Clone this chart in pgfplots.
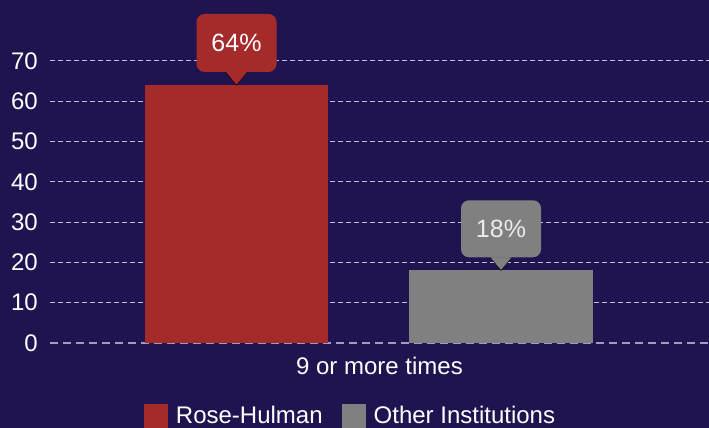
\documentclass[border=0pt]{standalone}
\usepackage{pgfplots}
\pgfplotsset{compat=1.18}
\usepackage{fontspec}
\setmainfont{Liberation Sans}
\definecolor{bg}{HTML}{1F1450}
\definecolor{rh}{HTML}{A52A2A}
\definecolor{oi}{HTML}{808080}
\definecolor{gridc}{HTML}{C4BCDC}
\begin{document}
\begin{tikzpicture}[x=1pt,y=1pt]
\fill[bg] (0,0) rectangle (709,428);
\useasboundingbox (0,0) rectangle (709,428);
\begin{axis}[
  at={(50pt,85pt)}, anchor=south west,
  scale only axis, width=659pt, height=322.3pt,
  xmin=50, xmax=709, ymin=0, ymax=80,
  clip=false,
  axis line style={draw=none},
  major tick length=0pt,
  xtick={379.5}, xticklabels={9 or more times},
  ytick={10,20,...,70},
  extra y ticks={0},
  extra y tick style={grid style={color=gridc!80!bg, dash pattern=on 8pt off 5pt, line width=1.6pt}},
  ymajorgrids,
  grid style={color=gridc, dash pattern=on 5pt off 3pt, line width=1pt},
  tick label style={text=white, font=\fontsize{24}{28}\selectfont},
  /pgf/number format/assume math mode=true,
  yticklabel style={anchor=east, inner sep=0pt, xshift=-12pt},
  xticklabel style={anchor=north, inner sep=0pt, yshift=-14pt},
  legend style={draw=none, fill=none, text=white, font=\fontsize{24}{28}\selectfont,
    legend columns=-1, at={(0.4545,-0.2265)}, anchor=center, inner sep=0pt,
    nodes={inner sep=0pt},
    /tikz/every odd column/.append style={column sep=8pt},
    /tikz/every even column/.append style={column sep=19pt}},
  legend image code/.code={\fill[#1] (0pt,-12pt) rectangle (24pt,12pt);},
]
\addplot[ybar, bar width=183, bar shift=0pt, fill=rh, draw=none] coordinates {(236.5,64)};
\addlegendentry{Rose-Hulman}
\addplot[ybar, bar width=184, bar shift=0pt, fill=oi, draw=none] coordinates {(501,18)};
\addlegendentry{Other Institutions}
% callouts
\addplot[forget plot, only marks, mark=triangle*, mark size=13pt,
  mark options={yshift=9pt, rotate=180, yscale=0.7, fill=rh, draw=none},
  nodes near coords={\pgfmathprintnumber{\pgfplotspointmeta}\%},
  every node near coord/.append style={anchor=south, yshift=4pt, fill=rh, rounded corners=8pt,
    minimum width=80pt, minimum height=58pt, text=white, inner sep=0pt,
    font=\fontsize{25}{29}\selectfont}]
  coordinates {(236.5,64)};
\addplot[forget plot, only marks, mark=triangle*, mark size=13pt,
  mark options={yshift=9pt, rotate=180, yscale=0.7, fill=oi, draw=none},
  nodes near coords={\pgfmathprintnumber{\pgfplotspointmeta}\%},
  every node near coord/.append style={anchor=south, yshift=4pt, fill=oi, rounded corners=8pt,
    minimum width=80pt, minimum height=57pt, text=white!92!black, inner sep=0pt,
    font=\fontsize{25}{29}\selectfont}]
  coordinates {(501,18)};
\end{axis}
\end{tikzpicture}
\end{document}
